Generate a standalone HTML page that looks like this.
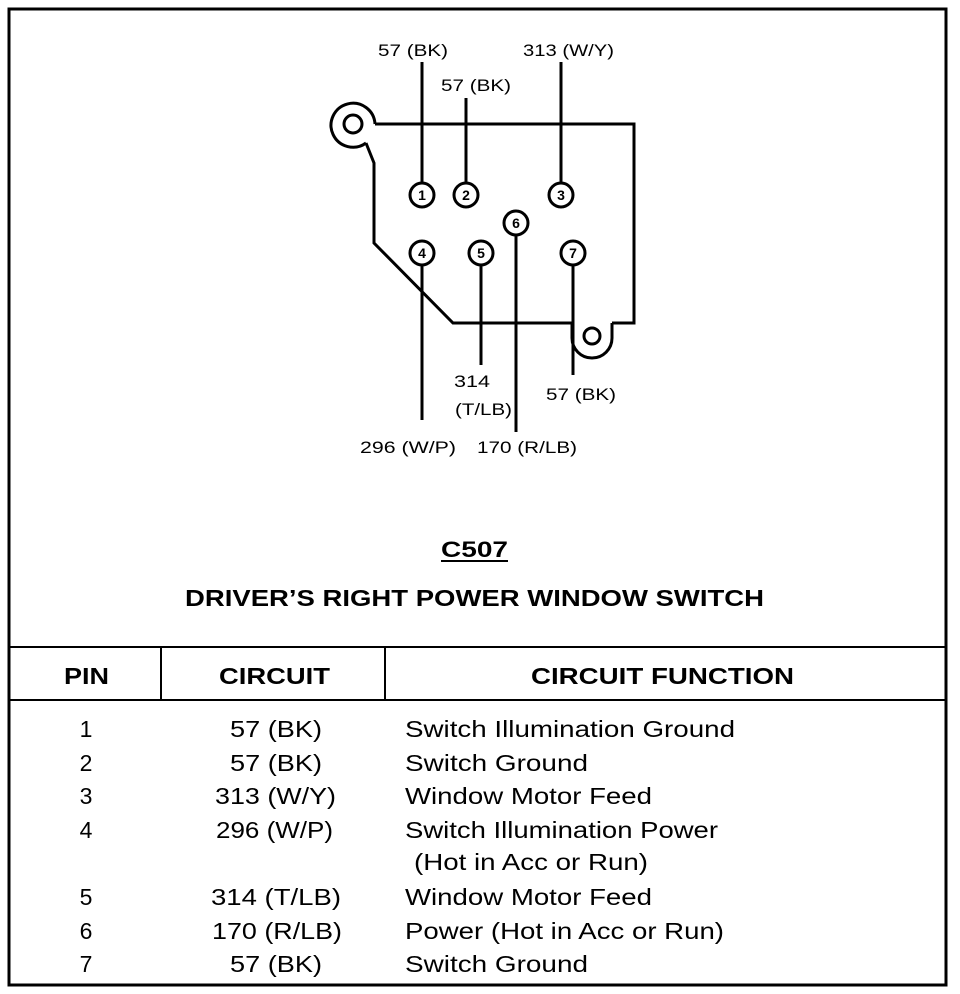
<!DOCTYPE html>
<html><head><style>
body{margin:0;background:#fff;}
svg{display:block;font-family:"Liberation Sans",Arial,sans-serif;}
</style></head><body>
<svg width="960" height="994" viewBox="0 0 960 994">
<rect x="9" y="9" width="937" height="976" fill="none" stroke="#000" stroke-width="3"/>
<g stroke="#000" stroke-width="3" fill="none">
<path d="M375,124 L634,124 L634,323 L612,323 M572,323 L453,323 L374,243 L374,163 L366,143"/>
<path d="M375,124 A22,22 0 1,0 366,143" />
<path d="M572,323 L572,338 A20,20 0 0,0 612,338 L612,323"/>
</g>
<circle cx="353" cy="124" r="9" fill="none" stroke="#000" stroke-width="3"/>
<circle cx="592" cy="336" r="8" fill="none" stroke="#000" stroke-width="3"/>
<g stroke="#000" stroke-width="3">
<line x1="422" y1="62" x2="422" y2="183"/>
<line x1="466" y1="98" x2="466" y2="183"/>
<line x1="561" y1="62" x2="561" y2="183"/>
<line x1="422" y1="265" x2="422" y2="420"/>
<line x1="481" y1="265" x2="481" y2="365"/>
<line x1="516" y1="235" x2="516" y2="432"/>
<line x1="573" y1="265" x2="573" y2="375"/>
</g>
<g stroke="#000" stroke-width="3" fill="#fff">
<circle cx="422" cy="195" r="12"/><circle cx="466" cy="195" r="12"/><circle cx="561" cy="195" r="12"/>
<circle cx="516" cy="223" r="12"/><circle cx="422" cy="253" r="12"/><circle cx="481" cy="253" r="12"/><circle cx="573" cy="253" r="12"/>
</g>
<g font-size="14" font-weight="bold" text-anchor="middle">
<text x="422" y="200">1</text><text x="466" y="200">2</text><text x="561" y="200">3</text>
<text x="516" y="228">6</text><text x="422" y="258">4</text><text x="481" y="258">5</text><text x="573" y="258">7</text>
</g>
<g font-size="17" lengthAdjust="spacingAndGlyphs">
<text x="378" y="56" textLength="70" lengthAdjust="spacingAndGlyphs">57 (BK)</text>
<text x="441" y="91" textLength="70" lengthAdjust="spacingAndGlyphs">57 (BK)</text>
<text x="523" y="56" textLength="91" lengthAdjust="spacingAndGlyphs">313 (W/Y)</text>
<text x="454" y="387" textLength="36" lengthAdjust="spacingAndGlyphs">314</text>
<text x="455" y="415" textLength="57" lengthAdjust="spacingAndGlyphs">(T/LB)</text>
<text x="546" y="400" textLength="70" lengthAdjust="spacingAndGlyphs">57 (BK)</text>
<text x="360" y="453" textLength="96" lengthAdjust="spacingAndGlyphs">296 (W/P)</text>
<text x="477" y="453" textLength="100" lengthAdjust="spacingAndGlyphs">170 (R/LB)</text>
</g>
<text x="441" y="557" font-size="22" font-weight="bold" textLength="67" lengthAdjust="spacingAndGlyphs">C507</text>
<line x1="441" y1="561" x2="508" y2="561" stroke="#000" stroke-width="2"/>
<text x="185" y="606" font-size="23" font-weight="bold" textLength="579" lengthAdjust="spacingAndGlyphs">DRIVER’S RIGHT POWER WINDOW SWITCH</text>
<g stroke="#000" stroke-width="2">
<line x1="9" y1="647" x2="946" y2="647"/>
<line x1="9" y1="700" x2="946" y2="700"/>
<line x1="161" y1="647" x2="161" y2="700"/>
<line x1="385" y1="647" x2="385" y2="700"/>
</g>
<g font-size="23" font-weight="bold">
<text x="64" y="684" textLength="45" lengthAdjust="spacingAndGlyphs">PIN</text>
<text x="219" y="684" textLength="111" lengthAdjust="spacingAndGlyphs">CIRCUIT</text>
<text x="531" y="684" textLength="263" lengthAdjust="spacingAndGlyphs">CIRCUIT FUNCTION</text>
</g>
<g font-size="23" text-anchor="middle">
<text x="86" y="737">1</text><text x="86" y="771">2</text><text x="86" y="804">3</text><text x="86" y="838">4</text>
<text x="86" y="905">5</text><text x="86" y="939">6</text><text x="86" y="972">7</text>
</g>
<g font-size="23">
<text x="230" y="737" textLength="92" lengthAdjust="spacingAndGlyphs">57 (BK)</text>
<text x="230" y="771" textLength="92" lengthAdjust="spacingAndGlyphs">57 (BK)</text>
<text x="215" y="804" textLength="121" lengthAdjust="spacingAndGlyphs">313 (W/Y)</text>
<text x="216" y="838" textLength="117" lengthAdjust="spacingAndGlyphs">296 (W/P)</text>
<text x="211" y="905" textLength="130" lengthAdjust="spacingAndGlyphs">314 (T/LB)</text>
<text x="212" y="939" textLength="130" lengthAdjust="spacingAndGlyphs">170 (R/LB)</text>
<text x="230" y="972" textLength="92" lengthAdjust="spacingAndGlyphs">57 (BK)</text>
<text x="405" y="737" textLength="330" lengthAdjust="spacingAndGlyphs">Switch Illumination Ground</text>
<text x="405" y="771" textLength="183" lengthAdjust="spacingAndGlyphs">Switch Ground</text>
<text x="405" y="804" textLength="247" lengthAdjust="spacingAndGlyphs">Window Motor Feed</text>
<text x="405" y="838" textLength="313" lengthAdjust="spacingAndGlyphs">Switch Illumination Power</text>
<text x="414" y="870" textLength="234" lengthAdjust="spacingAndGlyphs">(Hot in Acc or Run)</text>
<text x="405" y="905" textLength="247" lengthAdjust="spacingAndGlyphs">Window Motor Feed</text>
<text x="405" y="939" textLength="319" lengthAdjust="spacingAndGlyphs">Power (Hot in Acc or Run)</text>
<text x="405" y="972" textLength="183" lengthAdjust="spacingAndGlyphs">Switch Ground</text>
</g>
</svg>
</body></html>
